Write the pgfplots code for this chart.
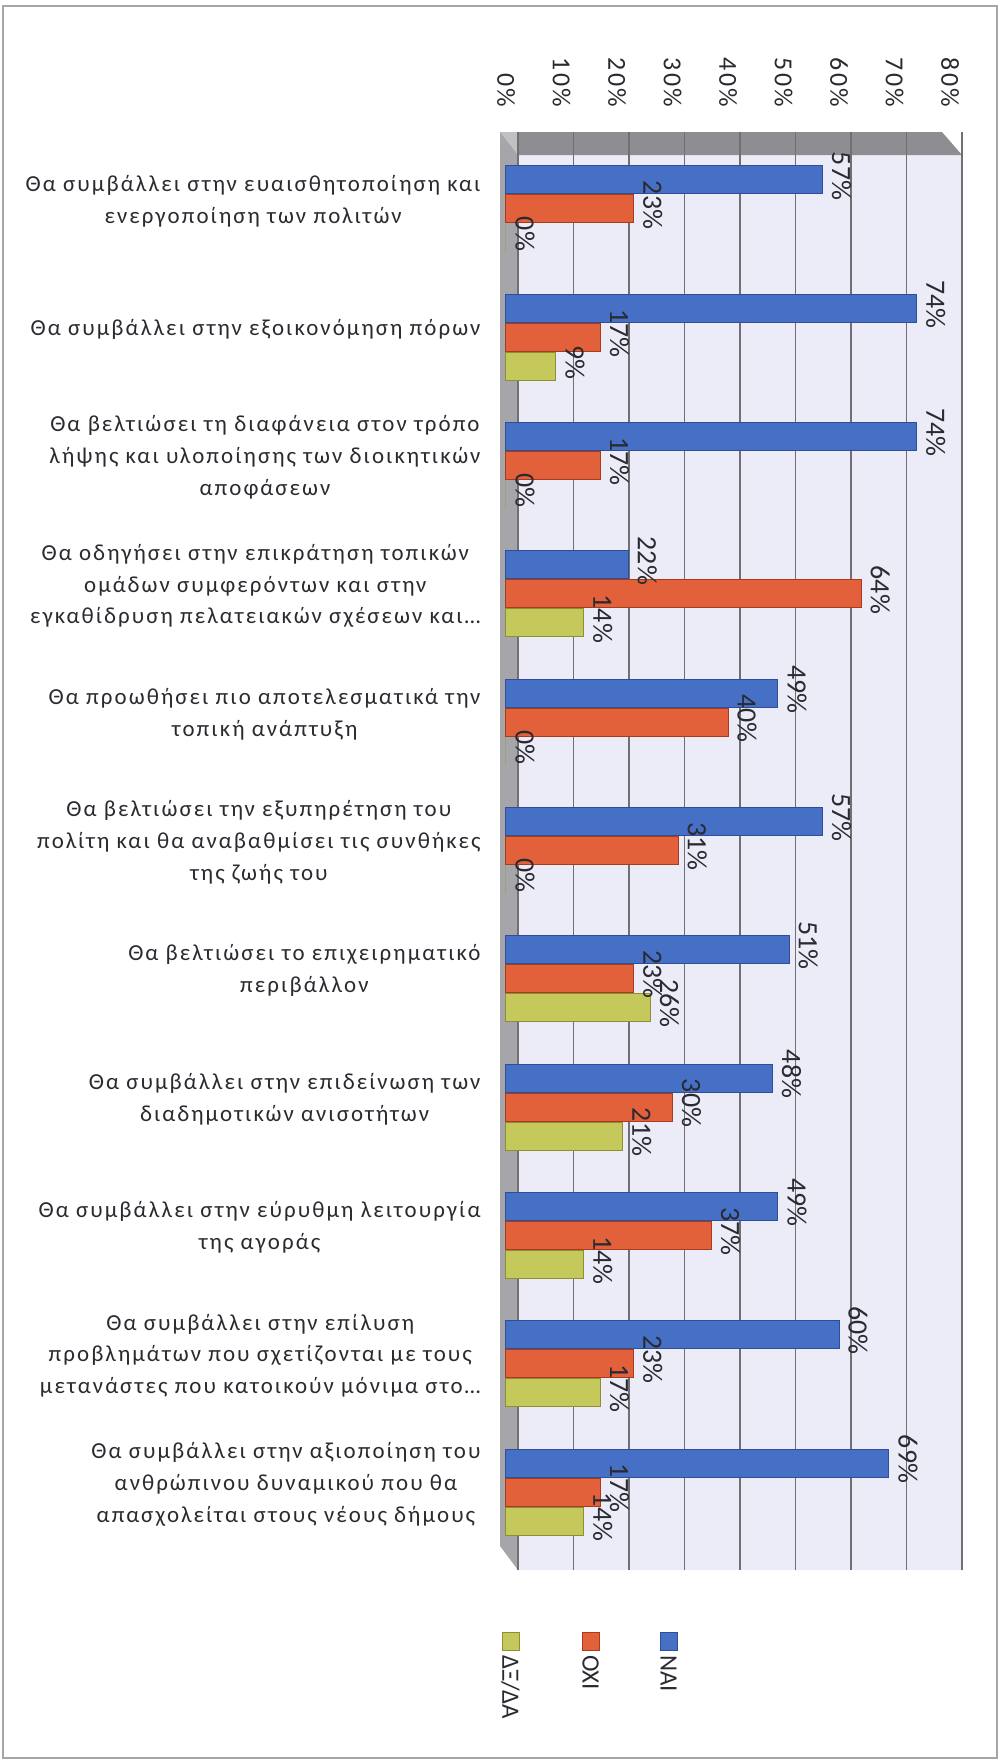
\documentclass[border=0pt]{standalone}
\usepackage{pgfplots}
\pgfplotsset{compat=1.18}
\usepackage{fontspec}
\setmainfont{Carlito}
\newfontfamily\catfont{Carlito}[LetterSpace=9]
\newfontfamily\tickfont{Carlito}[LetterSpace=8]
\definecolor{naiF}{HTML}{4670C6}
\definecolor{naiD}{HTML}{2E4F96}
\definecolor{oxiF}{HTML}{E2603A}
\definecolor{oxiD}{HTML}{A83A1E}
\definecolor{ddF}{HTML}{C5C85A}
\definecolor{ddD}{HTML}{8E8F32}
\definecolor{lav}{HTML}{ECECF8}
\definecolor{wallL}{HTML}{A6A6AA}
\definecolor{wallT}{HTML}{8E8E92}
\definecolor{gridc}{HTML}{707074}
\definecolor{txt}{HTML}{2A2A30}
\begin{document}
\begin{tikzpicture}
\path (0,0) rectangle (1003bp,-1762bp);
\draw[gray!70, line width=1.5bp] (3bp,-6bp) rectangle (997bp,-1758bp);
\fill[lav] (518bp,-155bp) rectangle (962bp,-1570bp);
\fill[wallL] (500bp,-132bp) -- (518bp,-155bp) -- (518bp,-1570bp) -- (500bp,-1546bp) -- cycle;
\fill[wallT] (500bp,-132bp) -- (942bp,-132bp) -- (962bp,-155bp) -- (518bp,-155bp) -- cycle;
\fill[wallL!70!white] (500bp,-132bp) -- (518bp,-155bp) -- (518bp,-132bp) -- cycle;
\begin{axis}[
  at={(500bp,-1570bp)}, anchor=south west,
  width=462bp, height=1438bp, scale only axis,
  xmin=-1.08, xmax=82.16, ymin=-0.608, ymax=10.6,
  enlargelimits=false,
  xbar, bar width=28bp,
  axis line style={draw=none},
  tick style={draw=none},
  xtick={0,10,...,80},
  xticklabels={0\%,10\%,20\%,30\%,40\%,50\%,60\%,70\%,80\%},
  xticklabel pos=upper,
  xticklabel style={font=\tickfont\fontsize{26}{30}\selectfont, yshift=25bp, rotate=-90, anchor=east, inner sep=0pt, text=txt},
  xmajorgrids,
  major grid style={xshift=12bp, gridc, line width=1.6bp},
  ytick={0,1,2,3,4,5,6,7,8,9,10},
  yticklabels={
    {Θα συμβάλλει στην αξιοποίηση του\\ανθρώπινου δυναμικού που θα\\απασχολείται στους νέους δήμους},
    {Θα συμβάλλει στην επίλυση\\προβλημάτων που σχετίζονται με τους\\μετανάστες που κατοικούν μόνιμα στο…},
    {Θα συμβάλλει στην εύρυθμη λειτουργία\\της αγοράς},
    {Θα συμβάλλει στην επιδείνωση των\\διαδημοτικών ανισοτήτων},
    {Θα βελτιώσει το επιχειρηματικό\\περιβάλλον},
    {Θα βελτιώσει την εξυπηρέτηση του\\πολίτη και θα αναβαθμίσει τις συνθήκες\\της ζωής του},
    {Θα προωθήσει πιο αποτελεσματικά την\\τοπική ανάπτυξη},
    {Θα οδηγήσει στην επικράτηση τοπικών\\ομάδων συμφερόντων και στην\\εγκαθίδρυση πελατειακών σχέσεων και…},
    {Θα βελτιώσει τη διαφάνεια στον τρόπο\\λήψης και υλοποίησης των διοικητικών\\αποφάσεων},
    {Θα συμβάλλει στην εξοικονόμηση πόρων},
    {Θα συμβάλλει στην ευαισθητοποίηση και\\ενεργοποίηση των πολιτών}},
  yticklabel style={font=\catfont\fontsize{23}{32}\selectfont, align=center, anchor=east, inner sep=0pt, xshift=-15bp, yshift=8bp, text=txt},
  point meta=x,
  /pgf/number format/assume math mode=true,
  nodes near coords={\pgfmathprintnumber{\pgfplotspointmeta}\%},
  nodes near coords style={font=\fontsize{28}{32}\selectfont, xshift=6bp, yshift=4bp, rotate=-90, anchor=south, inner sep=3bp, text=txt},
]
\addplot[draw=naiD, fill=naiF, line width=1bp, bar shift=29bp] coordinates {
(57,10) (74,9) (74,8) (22,7) (49,6) (57,5) (51,4) (48,3) (49,2) (60,1) (69,0)};
\addplot[draw=oxiD, fill=oxiF, line width=1bp, bar shift=0bp] coordinates {
(23,10) (17,9) (17,8) (64,7) (40,6) (31,5) (23,4) (30,3) (37,2) (23,1) (17,0)};
\addplot[draw=ddD, fill=ddF, line width=1bp, bar shift=-29bp] coordinates {
(0,10) (9,9) (0,8) (14,7) (0,6) (0,5) (26,4) (21,3) (14,2) (17,1) (14,0)};
\end{axis}
% legend (rotated like the reference)
\fill[naiF, draw=naiD] (660bp,-1632bp) rectangle (677bp,-1650bp);
\fill[oxiF, draw=oxiD] (582bp,-1632bp) rectangle (599bp,-1650bp);
\fill[ddF, draw=ddD] (502bp,-1632bp) rectangle (519bp,-1650bp);
\begin{scope}[every node/.style={rotate=-90, anchor=west, inner sep=0pt, text=txt, font=\fontsize{25}{28}\selectfont}]
\node at (668.5bp,-1655bp) {ΝΑΙ};
\node at (590.5bp,-1655bp) {ΟΧΙ};
\node at (510.5bp,-1655bp) {ΔΞ/ΔΑ};
\end{scope}
\end{tikzpicture}
\end{document}
